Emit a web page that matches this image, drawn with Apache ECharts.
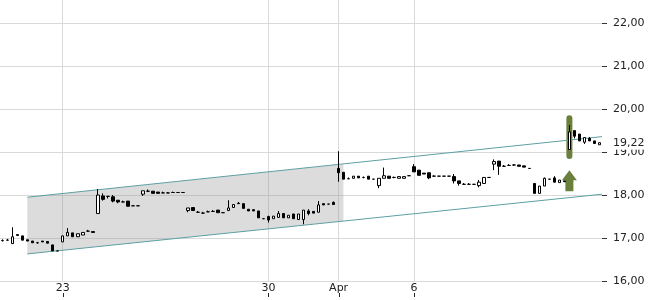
<!DOCTYPE html>
<html>
<head>
<meta charset="utf-8">
<script src="https://cdn.jsdelivr.net/npm/echarts@6/dist/echarts.min.js"></script>
<style>
    html, body { margin: 0; padding: 0; background: #fff; }
    #chart { width: 650px; height: 300px; }
</style>
</head>
<body>
<div id="chart"></div>
<script>
// one candle per slot: [open, close, low, high]
var candles = [
    [16.94, 16.94, 16.92, 16.97], [16.95, 16.95, 16.95, 16.98], [16.87, 17.03, 16.87, 17.25], [17.08, 17.06, 17.06, 17.08],
    [17.05, 16.95, 16.95, 17.05], [16.96, 16.93, 16.93, 16.96], [16.93, 16.89, 16.89, 16.93], [16.89, 16.89, 16.87, 16.91],
    [16.93, 16.91, 16.91, 16.93], [16.92, 16.88, 16.88, 16.92], [16.84, 16.70, 16.70, 16.84], [16.70, 16.70, 16.70, 16.70],
    [16.91, 17.05, 16.91, 17.05], [17.05, 17.13, 17.05, 17.23], [17.12, 17.03, 17.03, 17.12], [17.03, 17.10, 17.03, 17.10],
    [17.07, 17.13, 17.07, 17.13], [17.16, 17.16, 17.16, 17.19], [17.15, 17.13, 17.13, 17.15], [17.57, 18.00, 17.57, 18.14],
    [17.98, 17.90, 17.87, 18.04], [17.97, 17.97, 17.92, 17.97], [17.96, 17.86, 17.83, 18.00], [17.88, 17.84, 17.81, 17.88],
    [17.84, 17.84, 17.84, 17.87], [17.86, 17.74, 17.74, 17.86], [17.75, 17.75, 17.75, 17.75], [17.75, 17.75, 17.75, 17.75],
    [18.02, 18.10, 17.98, 18.10], [18.09, 18.09, 18.07, 18.13], [18.09, 18.04, 18.04, 18.09], [18.07, 18.04, 18.04, 18.07],
    [18.05, 18.05, 18.05, 18.08], [18.05, 18.05, 18.05, 18.07], [18.06, 18.06, 18.06, 18.08], [18.06, 18.06, 18.06, 18.06],
    [18.06, 18.06, 18.06, 18.06], [17.64, 17.70, 17.60, 17.70], [17.71, 17.64, 17.64, 17.71], [17.60, 17.60, 17.60, 17.63],
    [17.58, 17.58, 17.58, 17.61], [17.61, 17.61, 17.61, 17.64], [17.62, 17.62, 17.62, 17.65], [17.65, 17.59, 17.59, 17.65],
    [17.59, 17.59, 17.59, 17.59], [17.64, 17.70, 17.64, 17.88], [17.71, 17.78, 17.71, 17.78], [17.81, 17.80, 17.80, 17.84],
    [17.80, 17.69, 17.69, 17.80], [17.67, 17.63, 17.63, 17.67], [17.66, 17.63, 17.63, 17.66], [17.63, 17.47, 17.47, 17.63],
    [17.45, 17.45, 17.45, 17.45], [17.50, 17.42, 17.36, 17.52], [17.45, 17.51, 17.45, 17.51], [17.48, 17.57, 17.48, 17.63],
    [17.57, 17.47, 17.47, 17.57], [17.47, 17.53, 17.47, 17.53], [17.56, 17.45, 17.45, 17.56], [17.43, 17.56, 17.43, 17.56],
    [17.43, 17.65, 17.32, 17.65], [17.63, 17.57, 17.53, 17.67], [17.62, 17.58, 17.58, 17.62], [17.60, 17.77, 17.60, 17.86],
    [17.80, 17.77, 17.77, 17.80], [17.79, 17.79, 17.79, 17.79], [17.83, 17.78, 17.78, 17.85], [18.62, 18.52, 18.31, 19.02],
    [18.53, 18.37, 18.37, 18.53], [18.38, 18.38, 18.38, 18.41], [18.39, 18.44, 18.39, 18.44], [18.44, 18.40, 18.40, 18.44],
    [18.41, 18.41, 18.39, 18.43], [18.44, 18.37, 18.37, 18.44], [18.37, 18.37, 18.37, 18.37], [18.22, 18.39, 18.16, 18.39],
    [18.39, 18.45, 18.39, 18.64], [18.44, 18.39, 18.39, 18.44], [18.41, 18.41, 18.39, 18.43], [18.39, 18.43, 18.39, 18.43],
    [18.39, 18.43, 18.39, 18.43], [18.45, 18.45, 18.45, 18.45], [18.66, 18.54, 18.54, 18.72], [18.58, 18.46, 18.46, 18.58],
    [18.51, 18.49, 18.49, 18.51], [18.52, 18.40, 18.37, 18.52], [18.44, 18.44, 18.44, 18.46], [18.44, 18.44, 18.44, 18.44],
    [18.44, 18.44, 18.44, 18.44], [18.44, 18.44, 18.44, 18.44], [18.43, 18.33, 18.27, 18.49], [18.33, 18.27, 18.22, 18.33],
    [18.25, 18.25, 18.25, 18.28], [18.25, 18.25, 18.25, 18.28], [18.25, 18.25, 18.25, 18.25], [18.22, 18.30, 18.18, 18.35],
    [18.27, 18.41, 18.27, 18.41], [18.41, 18.41, 18.41, 18.41], [18.72, 18.78, 18.58, 18.83], [18.79, 18.67, 18.47, 18.79],
    [18.67, 18.67, 18.67, 18.70], [18.69, 18.69, 18.69, 18.72], [18.70, 18.70, 18.68, 18.72], [18.70, 18.67, 18.67, 18.70],
    [18.68, 18.65, 18.65, 18.68], [18.62, 18.62, 18.62, 18.62], [18.27, 18.04, 18.04, 18.27], [18.04, 18.21, 18.04, 18.21],
    [18.21, 18.39, 18.21, 18.41], [18.37, 18.37, 18.37, 18.37], [18.40, 18.30, 18.30, 18.44], [18.29, 18.35, 18.29, 18.35],
    [18.33, 18.31, 18.31, 18.33], [19.06, 19.47, 19.06, 19.63], [19.50, 19.37, 19.32, 19.50], [19.42, 19.26, 19.26, 19.42],
    [19.23, 19.34, 19.19, 19.34], [19.32, 19.26, 19.26, 19.35], [19.26, 19.20, 19.20, 19.26], [19.17, 19.22, 19.17, 19.22]
];
var slotCount = 120;
var xTickSlots = [12, 53, 67, 82];
var xTickLabels = ['23', '30', 'Apr', '6'];
var yTicks = [16, 17, 18, 19, 20, 21, 22];
var lastPrice = 19.22;

// trend channel, x in slot units (0 = left edge of the plot)
var channelX = [5.44, 120];
var channelUpper = [17.95, 19.36];
var channelLower = [16.63, 18.02];
var shadeEndX = 68.45;

// signal: highlighted candle and arrow
var signalSlot = 113;
var signalBar = [18.84, 19.86];
var signalArrow = [18.09, 18.58];

var FONT = 'DejaVu Sans';
var GREEN = '#6a7f3b';
var GRID = '#d9d9d9';
var Y_MIN = 16;

function fmt(v) {
    return v.toFixed(2).replace('.', ',');
}
function lineAt(ys, x) {
    return ys[0] + (ys[1] - ys[0]) * (x - channelX[0]) / (channelX[1] - channelX[0]);
}

var slots = [];
for (var i = 0; i < slotCount; i++) slots.push(String(i));
var tickCenters = xTickSlots.map(function (s) { return s + 0.5; });

var chart = echarts.init(document.getElementById('chart'));
var option = {
    animation: false,
    grid: { left: 0, right: 48, top: 0, bottom: 19, outerBoundsMode: 'none', containLabel: false },
    xAxis: [
        {
            type: 'category', data: slots, boundaryGap: true, show: false, position: 'bottom'
        },
        {
            type: 'value', min: 0, max: slotCount, position: 'bottom',
            axisLine: { show: false, onZero: false },
            axisTick: { show: false, customValues: tickCenters },
            axisLabel: {
                customValues: tickCenters, margin: 2,
                color: '#222', fontSize: 11, fontFamily: FONT,
                formatter: function (v) {
                    return xTickLabels[xTickSlots.indexOf(Math.round(v - 0.5))] || '';
                }
            },
            splitLine: { show: true, lineStyle: { color: GRID, width: 1 } }
        }
    ],
    yAxis: {
        type: 'value', position: 'right', min: Y_MIN, max: 22.54,
        axisLine: { show: false, onZero: false },
        axisTick: { show: true, customValues: yTicks, length: 5, lineStyle: { color: '#333' } },
        axisLabel: {
            customValues: yTicks, margin: 11,
            color: '#222', fontSize: 11, fontFamily: FONT,
            formatter: fmt
        },
        splitLine: { show: true, lineStyle: { color: GRID, width: 1 } }
    },
    series: [
        {
            // shaded part of the channel
            type: 'custom', xAxisIndex: 1, silent: true, z: 1,
            data: [[channelX[0], channelUpper[0]]],
            renderItem: function (params, api) {
                var pts = [
                    api.coord([channelX[0], channelUpper[0]]),
                    api.coord([shadeEndX, lineAt(channelUpper, shadeEndX)]),
                    api.coord([shadeEndX, lineAt(channelLower, shadeEndX)]),
                    api.coord([channelX[0], channelLower[0]])
                ];
                return { type: 'polygon', shape: { points: pts }, style: { fill: 'rgba(150,150,150,0.33)' } };
            }
        },
        {
            // date tick marks, drawn under the date labels
            type: 'custom', xAxisIndex: 1, silent: true, clip: false,
            data: tickCenters.map(function (v) { return [v, Y_MIN]; }),
            renderItem: function (params, api) {
                var p = api.coord([api.value(0), Y_MIN]);
                var x = Math.round(p[0]) + 0.5;
                return {
                    type: 'line',
                    shape: { x1: x, y1: p[1] + 12, x2: x, y2: p[1] + 16 },
                    style: { stroke: '#222', lineWidth: 1 }
                };
            }
        },
        {
            type: 'line', xAxisIndex: 1, silent: true, symbol: 'none', z: 3,
            data: [[channelX[0], channelUpper[0]], [channelX[1], channelUpper[1]]],
            lineStyle: { color: '#5e9fa2', width: 1 }
        },
        {
            type: 'line', xAxisIndex: 1, silent: true, symbol: 'none', z: 3,
            data: [[channelX[0], channelLower[0]], [channelX[1], channelLower[1]]],
            lineStyle: { color: '#5e9fa2', width: 1 }
        },
        {
            // green highlight behind the signal candle + arrow below it
            type: 'custom', xAxisIndex: 0, silent: true, z: 2,
            data: [[signalSlot, signalBar[0]]],
            renderItem: function (params, api) {
                var top = api.coord([signalSlot, signalBar[1]]);
                var bot = api.coord([signalSlot, signalBar[0]]);
                var tip = api.coord([signalSlot, signalArrow[1]]);
                var base = api.coord([signalSlot, signalArrow[0]]);
                var cx = top[0];
                var hy = tip[1] + 10;
                return {
                    type: 'group',
                    children: [
                        {
                            type: 'rect',
                            shape: { x: cx - 3, y: top[1], width: 6, height: bot[1] - top[1], r: 3 },
                            style: { fill: GREEN }
                        },
                        {
                            type: 'polygon',
                            shape: { points: [
                                [cx, tip[1]], [cx + 7.5, hy], [cx + 4, hy], [cx + 4, base[1]],
                                [cx - 4, base[1]], [cx - 4, hy], [cx - 7.5, hy]
                            ] },
                            style: { fill: GREEN }
                        }
                    ]
                };
            }
        },
        {
            type: 'candlestick', xAxisIndex: 0, z: 4,
            data: candles,
            barWidth: 3,
            itemStyle: {
                color: '#fff', color0: '#000',
                borderColor: '#000', borderColor0: '#000', borderColorDoji: '#000',
                borderWidth: 1
            },
            markLine: {
                silent: true, symbol: 'none', animation: false,
                lineStyle: { color: 'rgba(0,0,0,0)' },
                label: {
                    position: 'end', distance: 11, formatter: fmt(lastPrice),
                    color: '#222', fontSize: 11, fontFamily: FONT,
                    backgroundColor: '#fff', padding: [2, 0, 1, 0]
                },
                data: [{ yAxis: lastPrice }]
            }
        }
    ]
};
chart.setOption(option);
</script>
</body>
</html>
